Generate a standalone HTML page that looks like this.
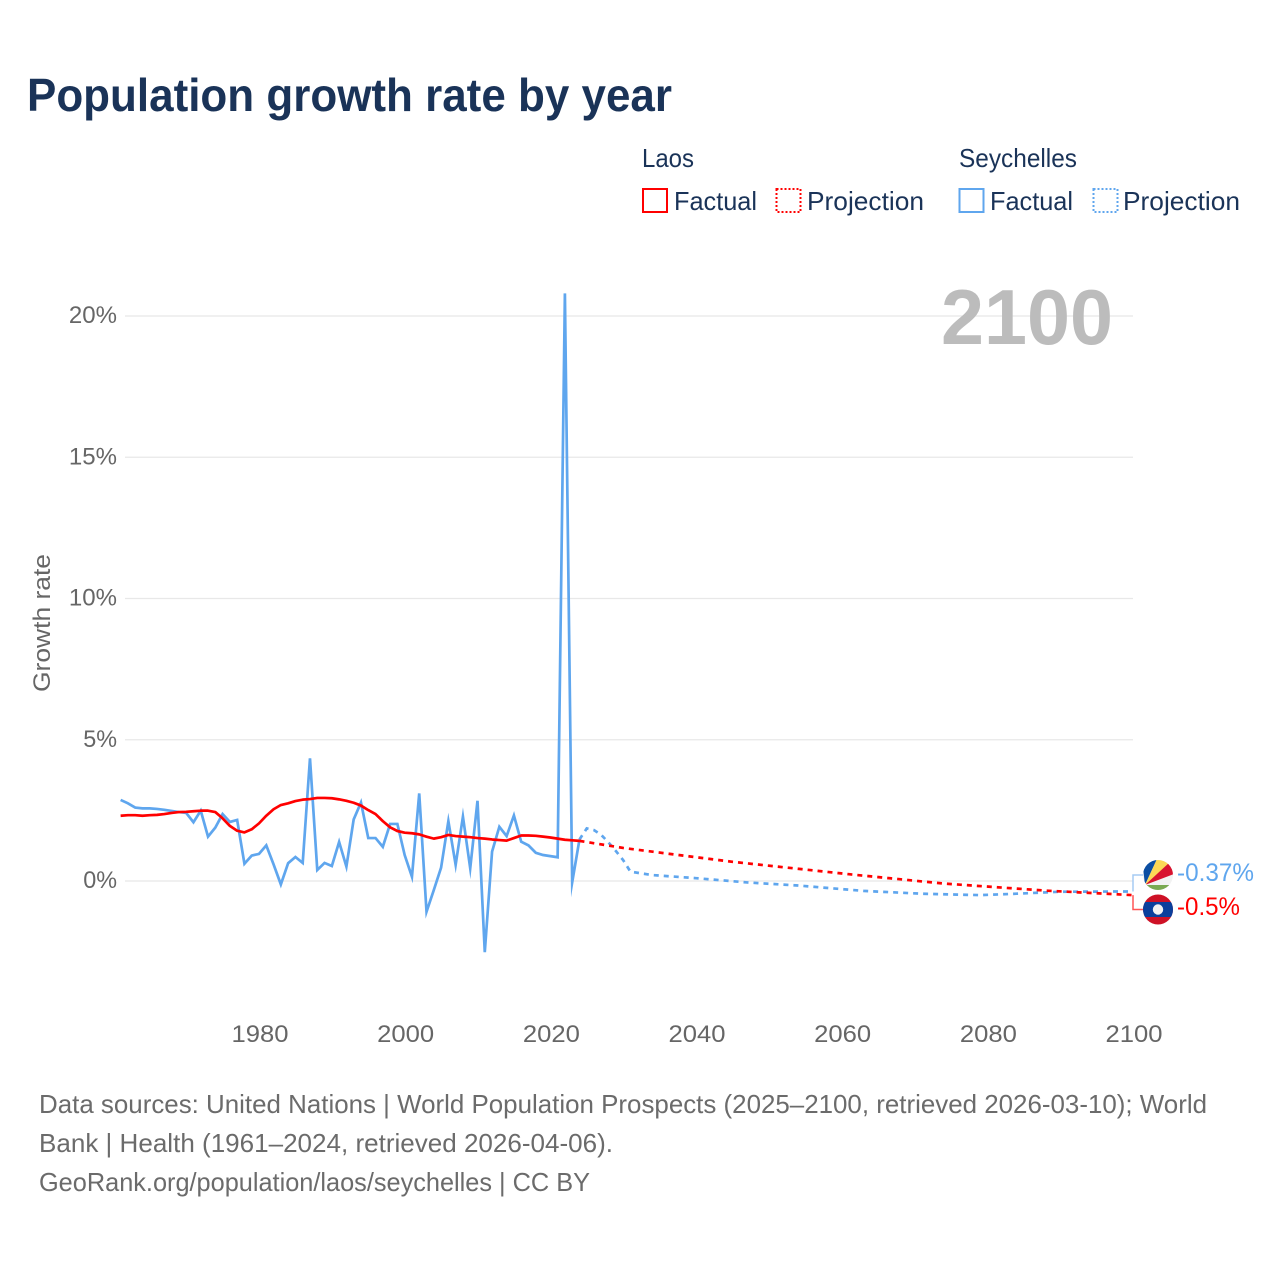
<!DOCTYPE html>
<html lang="en">
<head>
<meta charset="utf-8">
<title>Population growth rate by year</title>
<style>
html,body{margin:0;padding:0;background:#fff}
svg{display:block;font-family:"Liberation Sans",sans-serif}
</style>
</head>
<body>
<svg id="chart" width="1280" height="1280" viewBox="0 0 1280 1280" xmlns="http://www.w3.org/2000/svg">
  <text x="27" y="111" font-size="46" font-weight="700" fill="#1a3358" textLength="645" lengthAdjust="spacingAndGlyphs">Population growth rate by year</text>

  <g fill="#1a3358" font-size="26">
    <text x="642" y="167" textLength="52" lengthAdjust="spacingAndGlyphs">Laos</text>
    <g>
      <rect x="643" y="189" width="24" height="23" fill="none" stroke="#ff0000" stroke-width="2"/>
      <text x="674" y="210" textLength="83" lengthAdjust="spacingAndGlyphs">Factual</text>
    </g>
    <g>
      <rect x="776.5" y="189" width="24" height="23" fill="none" stroke="#ff0000" stroke-width="2" stroke-dasharray="2 2"/>
      <text x="807" y="210" textLength="117" lengthAdjust="spacingAndGlyphs">Projection</text>
    </g>
    <text x="959" y="167" textLength="118" lengthAdjust="spacingAndGlyphs">Seychelles</text>
    <g>
      <rect x="959.5" y="189" width="24" height="23" fill="none" stroke="#5fa6ee" stroke-width="2"/>
      <text x="990" y="210" textLength="83" lengthAdjust="spacingAndGlyphs">Factual</text>
    </g>
    <g>
      <rect x="1093.5" y="189" width="24" height="23" fill="none" stroke="#5fa6ee" stroke-width="2" stroke-dasharray="2 2"/>
      <text x="1123" y="210" textLength="117" lengthAdjust="spacingAndGlyphs">Projection</text>
    </g>
  </g>

  <g id="grid"></g>

  <text x="941" y="344" font-size="78" font-weight="700" fill="#bcbcbc" textLength="172" lengthAdjust="spacingAndGlyphs">2100</text>

  <text transform="translate(50,623) rotate(-90)" text-anchor="middle" font-size="24" fill="#666666" textLength="138" lengthAdjust="spacingAndGlyphs">Growth rate</text>

  <g id="yticks"></g>
  <g id="xticks"></g>
  <g id="series"></g>

  <g id="end-markers">
    <defs>
      <clipPath id="clip-sc"><circle cx="1158" cy="875" r="15"/></clipPath>
      <clipPath id="clip-la"><circle cx="1158" cy="909.5" r="15"/></clipPath>
    </defs>
    <g clip-path="url(#clip-sc)">
      <rect x="1142" y="859" width="32" height="32" fill="#f2f2f2"/>
      <polygon points="1145,885 1142,859 1157,859" fill="#0b4ea2"/>
      <polygon points="1145,885 1157,859 1174,859" fill="#fcd856"/>
      <polygon points="1145,885 1170,862 1174,874" fill="#d8132f"/>
      <rect x="1142" y="885" width="32" height="6" fill="#7aa951"/>
    </g>
    <g clip-path="url(#clip-la)">
      <rect x="1142" y="894" width="32" height="32" fill="#ce1126"/>
      <rect x="1142" y="902" width="32" height="15" fill="#0b3f9c"/>
      <circle cx="1158" cy="909.5" r="5.2" fill="#f2f2f2"/>
    </g>
    <text x="1177" y="881" font-size="25" fill="#5fa6ee" textLength="77" lengthAdjust="spacingAndGlyphs">-0.37%</text>
    <text x="1177" y="915" font-size="25" fill="#ff0000" textLength="63" lengthAdjust="spacingAndGlyphs">-0.5%</text>
  </g>

  <g font-size="26" fill="#6b6b6b">
    <text x="39" y="1113" textLength="1168" lengthAdjust="spacingAndGlyphs">Data sources: United Nations | World Population Prospects (2025–2100, retrieved 2026-03-10); World</text>
    <text x="39" y="1152" textLength="574" lengthAdjust="spacingAndGlyphs">Bank | Health (1961–2024, retrieved 2026-04-06).</text>
    <text x="39" y="1191" textLength="551" lengthAdjust="spacingAndGlyphs">GeoRank.org/population/laos/seychelles | CC BY</text>
  </g>
</svg>
<script>
const factualStartYear = 1961;
const laosFactual = [2.31,2.33,2.33,2.31,2.33,2.34,2.37,2.41,2.44,2.45,2.47,2.49,2.49,2.44,2.22,1.95,1.78,1.72,1.83,2.04,2.31,2.54,2.69,2.75,2.83,2.88,2.90,2.94,2.94,2.93,2.89,2.84,2.77,2.67,2.51,2.37,2.12,1.90,1.77,1.71,1.69,1.65,1.57,1.50,1.55,1.63,1.59,1.57,1.55,1.52,1.50,1.47,1.45,1.43,1.52,1.61,1.61,1.60,1.57,1.54,1.50,1.46,1.44,1.42];
const seychellesFactual = [2.87,2.75,2.60,2.57,2.57,2.55,2.52,2.48,2.44,2.41,2.08,2.49,1.57,1.89,2.37,2.09,2.16,0.61,0.90,0.96,1.26,0.59,-0.12,0.63,0.85,0.64,4.34,0.39,0.64,0.53,1.38,0.51,2.18,2.78,1.52,1.52,1.21,2.02,2.02,0.92,0.15,3.10,-1.09,-0.32,0.47,2.12,0.57,2.28,0.45,2.84,-2.52,1.04,1.92,1.59,2.32,1.39,1.26,1.00,0.92,0.88,0.84,20.8,-0.05,1.47];
const laosProjectionYears = [2024,2030,2037,2045,2061,2074,2088,2100];
const laosProjection = [1.42,1.17,0.94,0.68,0.24,-0.09,-0.34,-0.50];
const seychellesProjectionYears = [2024,2025,2026,2027,2028,2029,2030,2031,2034,2040,2047,2054,2063,2071,2079,2084,2090,2100];
const seychellesProjection = [1.47,1.86,1.80,1.63,1.36,1.06,0.74,0.33,0.21,0.10,-0.05,-0.16,-0.35,-0.45,-0.50,-0.45,-0.38,-0.37];
const xTickYears = [1980,2000,2020,2040,2060,2080,2100];
const yTickValues = [0,5,10,15,20];

const RED = '#ff0000';
const BLUE = '#5fa6ee';
const NS = 'http://www.w3.org/2000/svg';

function xScale(year) { return 259 + (year - 1980) * (1133 - 259) / 120; }
function yScale(value) { return 881 - value * (881 - 316) / 20; }

function make(tag, parent, attrs) {
  const el = document.createElementNS(NS, tag);
  for (const k in attrs) el.setAttribute(k, attrs[k]);
  parent.appendChild(el);
  return el;
}

const grid = document.getElementById('grid');
const yticks = document.getElementById('yticks');
const xticks = document.getElementById('xticks');
const series = document.getElementById('series');

yTickValues.forEach(function (v) {
  const line = make('line', grid, {x1: 125, x2: 1133, y1: yScale(v), y2: yScale(v), stroke: '#e8e8e8', 'stroke-width': 1.2});
  
  
  const label = v + '%';
  const t = make('text', yticks, {x: 117, y: yScale(v) + 7, 'text-anchor': 'end', 'font-size': 24, fill: '#666666', textLength: 14.3 * String(v).length + 19.5, lengthAdjust: 'spacingAndGlyphs'});
  t.textContent = label;
  
  
});

xTickYears.forEach(function (y) {
  const t = make('text', xticks, {x: xScale(y) + 1, y: 1042, 'text-anchor': 'middle', 'font-size': 24, fill: '#666666', textLength: 57, lengthAdjust: 'spacingAndGlyphs'});
  t.textContent = y;
  
  
});

function pointsFrom(years, values) {
  return values.map(function (v, i) {
    return xScale(years[i]).toFixed(2) + ',' + yScale(v).toFixed(2);
  }).join(' ');
}

function factualYears(values) {
  return values.map(function (_, i) { return factualStartYear + i; });
}

const seychellesFactualLine = make('polyline', series, {points: pointsFrom(factualYears(seychellesFactual), seychellesFactual), fill: 'none', stroke: BLUE, 'stroke-width': 2.7, 'stroke-linejoin': 'miter', 'stroke-miterlimit': 12});



const seychellesProjectionLine = make('polyline', series, {points: pointsFrom(seychellesProjectionYears, seychellesProjection), fill: 'none', stroke: BLUE, 'stroke-width': 2.7, 'stroke-dasharray': '5 5'});



const laosFactualLine = make('polyline', series, {points: pointsFrom(factualYears(laosFactual), laosFactual), fill: 'none', stroke: RED, 'stroke-width': 2.7, 'stroke-linejoin': 'round'});



const laosProjectionLine = make('polyline', series, {points: pointsFrom(laosProjectionYears, laosProjection), fill: 'none', stroke: RED, 'stroke-width': 2.7, 'stroke-dasharray': '5 5'});



const seychellesEndY = yScale(seychellesProjection[seychellesProjection.length - 1]);
const laosEndY = yScale(laosProjection[laosProjection.length - 1]);

const seychellesConnector = make('polyline', series, {points: xScale(2100) + ',' + seychellesEndY + ' ' + xScale(2100) + ',875 1143,875', fill: 'none', stroke: '#a5cbf4', 'stroke-width': 1.5});



const laosConnector = make('polyline', series, {points: xScale(2100) + ',' + laosEndY + ' ' + xScale(2100) + ',909.5 1143,909.5', fill: 'none', stroke: '#ff5555', 'stroke-width': 1.5});


</script>
</body>
</html>
